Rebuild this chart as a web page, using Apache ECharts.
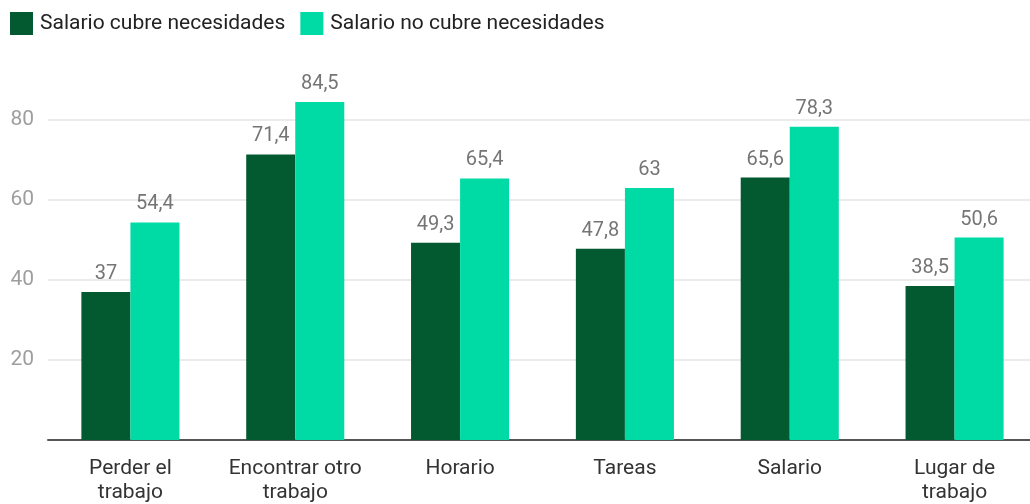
<!DOCTYPE html>
<html><head><meta charset="utf-8">
<script src="https://cdn.jsdelivr.net/npm/echarts@6/dist/echarts.min.js"></script>
<style>html,body{margin:0;padding:0;background:#fff}#c{width:1030px;height:504px}</style>
</head><body><div id="c"></div>
<script>
const categories = ['Perder el\ntrabajo','Encontrar otro\ntrabajo','Horario','Tareas','Salario','Lugar de\ntrabajo'];
const seriesNames = ['Salario cubre necesidades','Salario no cubre necesidades'];
const cubre = [37, 71.4, 49.3, 47.8, 65.6, 38.5];
const noCubre = [54.4, 84.5, 65.4, 63, 78.3, 50.6];
const colors = ['#035A30', '#00DBA6'];
const fmt = p => String(p.value).replace('.', ',');
const chart = echarts.init(document.getElementById('c'), null, {renderer:'canvas'});
chart.setOption({
  animation:false,
  color: colors,
  textStyle:{fontFamily:'Roboto'},
  legend:{left:10, top:12, padding:0, itemWidth:23, itemHeight:23, itemGap:15, icon:'rect',
    textStyle:{fontSize:21, color:'#222', fontFamily:'Roboto', padding:[0,0,0,2]}},
  grid:{left:48, width:989, top:40, bottom:64, outerBoundsMode:'none', containLabel:false},
  xAxis:{type:'category', data:categories,
    axisLine:{lineStyle:{color:'#555', width:2}}, axisTick:{show:false},
    axisLabel:{fontSize:21, color:'#333', lineHeight:24, margin:17, interval:0}},
  yAxis:{type:'value', min:0, max:100, interval:20,
    axisLine:{show:false}, axisTick:{show:false},
    axisLabel:{fontSize:21, color:'#9e9e9e', margin:14, showMinLabel:false, showMaxLabel:false, align:'right'},
    splitLine:{lineStyle:{color:['rgba(0,0,0,0)','#e4e4e4','#e4e4e4','#e4e4e4','#e4e4e4','rgba(0,0,0,0)'], width:1.5}}},
  series:[
    {name:seriesNames[0], type:'bar', data:cubre, barGap:'0%', barCategoryGap:'40.5%',
     label:{show:true, position:'top', distance:8, fontSize:20, color:'#757575', formatter:fmt}},
    {name:seriesNames[1], type:'bar', data:noCubre, barGap:'0%', barCategoryGap:'40.5%',
     label:{show:true, position:'top', distance:8, fontSize:20, color:'#757575', formatter:fmt}}
  ]
});
</script></body></html>
